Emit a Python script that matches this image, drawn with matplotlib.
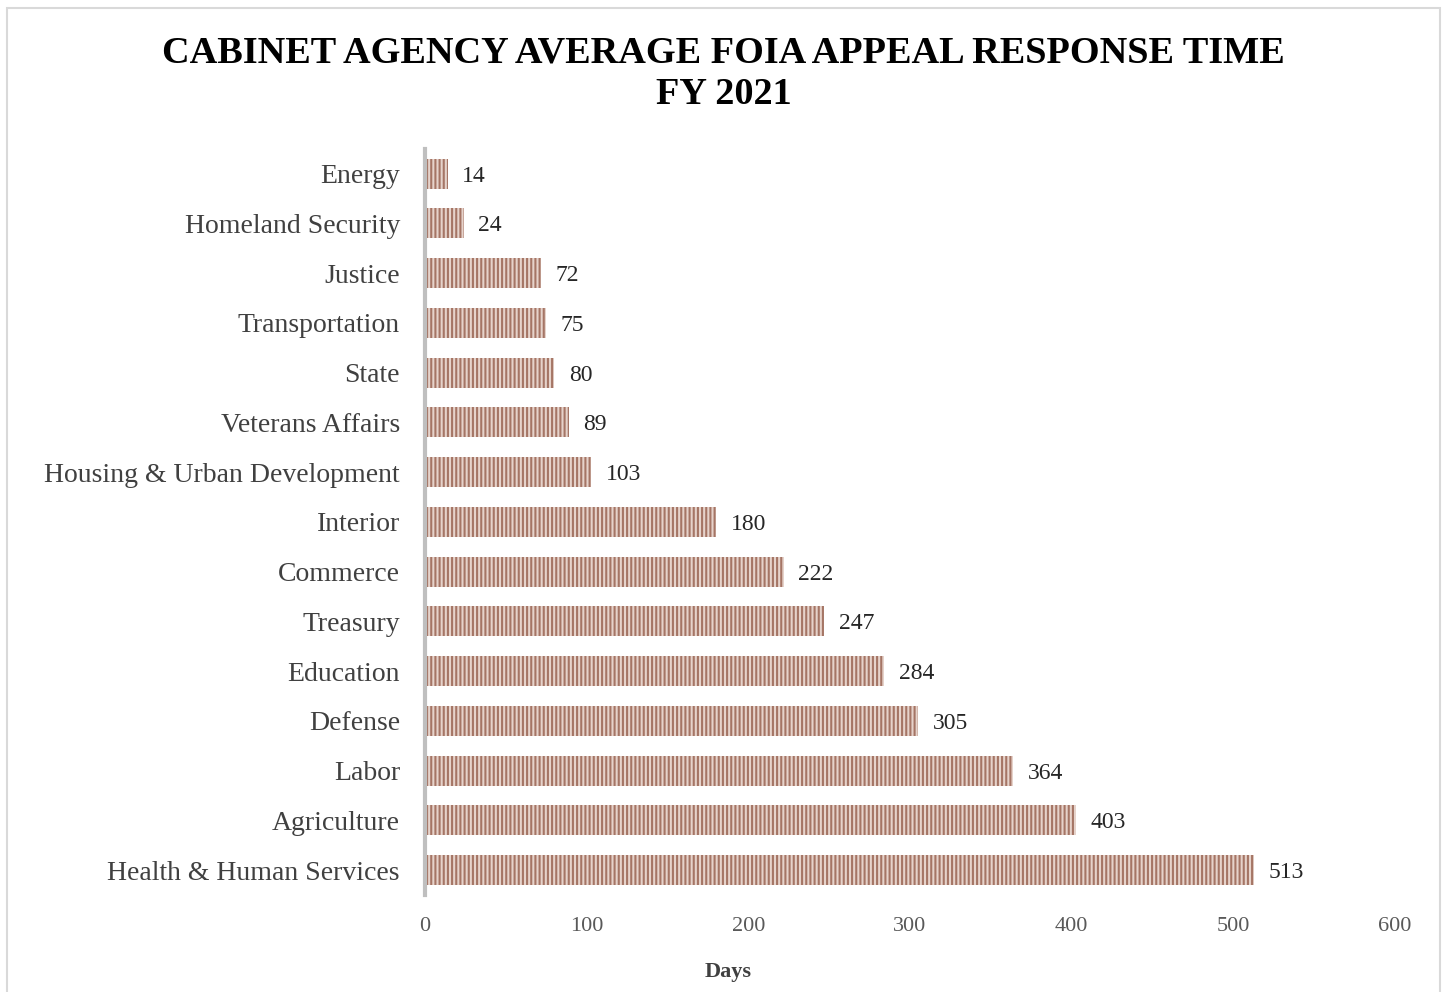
import matplotlib.pyplot as plt
from matplotlib.patches import Rectangle

agencies = ["Energy", "Homeland Security", "Justice", "Transportation", "State",
            "Veterans Affairs", "Housing & Urban Development", "Interior", "Commerce",
            "Treasury", "Education", "Defense", "Labor", "Agriculture",
            "Health & Human Services"]
days = [14, 24, 72, 75, 80, 89, 103, 180, 222, 247, 284, 305, 364, 403, 513]
x_ticks = [0, 100, 200, 300, 400, 500, 600]

plt.rcParams["font.family"] = ["Liberation Serif", "DejaVu Serif"]
plt.rcParams["hatch.linewidth"] = 1.5

fig = plt.figure(figsize=(14.47, 9.92), dpi=100)
fig.patches.append(Rectangle((0.005, -0.01), 0.99, 1.002, transform=fig.transFigure,
                             fill=False, edgecolor="#d9d9d9", linewidth=1.5))
ax = fig.add_axes([0.2937, 0.0978, 0.6703, 0.7522])

y = range(len(agencies))
ax.barh(y, days, height=0.6, color="#e6d3cb", edgecolor="#a57565",
        hatch="||||", linewidth=0)
for yi, v in zip(y, days):
    ax.text(v + 9, yi, str(v), va="center_baseline", ha="left", fontsize=17,
            color="#262626")

ax.set_ylim(len(agencies) - 0.5, -0.5)
ax.set_xlim(0, 600)
ax.set_yticks(list(y))
ax.set_yticklabels(agencies, fontsize=20, color="#404040")
ax.set_xticks(x_ticks)
ax.set_xticklabels([str(t) for t in x_ticks], fontsize=16, color="#595959")
ax.tick_params(axis="both", length=0)
ax.tick_params(axis="y", pad=18)
ax.tick_params(axis="x", pad=16)
for s in ["top", "right", "bottom"]:
    ax.spines[s].set_visible(False)
ax.spines["left"].set_color("#bfbfbf")
ax.spines["left"].set_linewidth(3)

fig.text(0.503, 0.015, "Days", ha="center", fontsize=16, fontweight="bold", color="#404040")
fig.suptitle("CABINET AGENCY AVERAGE FOIA APPEAL RESPONSE TIME\nFY 2021",
             y=0.964, fontsize=27.5, fontweight="bold", linespacing=1.25)

fig.savefig("out.png", dpi=100)
